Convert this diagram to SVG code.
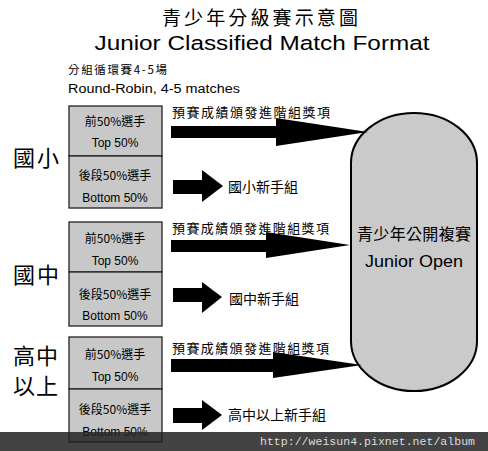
<svg xmlns="http://www.w3.org/2000/svg" width="488" height="451" viewBox="0 0 488 451">
<style>
text{font-family:"Liberation Sans","Noto Sans CJK TC",sans-serif;fill:#000}
.cjk{font-family:"Noto Sans CJK TC","Liberation Sans",sans-serif}
.box{fill:#c8c8c8;stroke:#222;stroke-width:1.3}
.arr{fill:#000}
.bt{font-size:12px;text-anchor:middle}
.grp{font-size:22px;font-family:"Noto Sans CJK TC",sans-serif}
.lab{font-size:13px}
.new{font-size:14px}
</style>
<rect width="488" height="451" fill="#fff"/>
<g id="title">
<text class="cjk" x="260" y="25" font-size="19" text-anchor="middle" textLength="196">青少年分級賽示意圖</text>
<text x="262" y="50" font-size="20.5" text-anchor="middle" textLength="335" lengthAdjust="spacingAndGlyphs">Junior Classified Match Format</text>
<text class="cjk" x="68" y="74" font-size="11.5" textLength="99">分組循環賽4-5場</text>
<text x="68" y="93" font-size="12" textLength="172" lengthAdjust="spacingAndGlyphs">Round-Robin, 4-5 matches</text>
</g>
<g id="group-elem">
<text class="grp" x="13" y="166" textLength="46">國小</text>
<rect class="box" x="69" y="106" width="93" height="50"/>
<rect class="box" x="69" y="156" width="93" height="52"/>
<text class="bt cjk" x="115" y="126">前50%選手</text>
<text class="bt" x="115" y="147" font-size="13">Top 50%</text>
<text class="bt cjk" x="115" y="180">後段50%選手</text>
<text class="bt" x="115" y="202" font-size="13">Bottom 50%</text>
</g>
<g id="group-junior">
<text class="grp" x="13" y="283" textLength="46">國中</text>
<rect class="box" x="69" y="222" width="93" height="50"/>
<rect class="box" x="69" y="272" width="93" height="54"/>
<text class="bt cjk" x="115" y="243">前50%選手</text>
<text class="bt" x="115" y="265" font-size="13">Top 50%</text>
<text class="bt cjk" x="115" y="299">後段50%選手</text>
<text class="bt" x="115" y="320" font-size="13">Bottom 50%</text>
</g>
<g id="group-senior">
<text class="grp" x="13" y="364" font-size="20" textLength="45">高中</text>
<text class="grp" x="13" y="393.5" font-size="20" textLength="45">以上</text>
<rect class="box" x="69" y="337" width="93" height="52"/>
<rect class="box" x="69" y="389" width="93" height="53"/>
<text class="bt cjk" x="115" y="359">前50%選手</text>
<text class="bt" x="115" y="381" font-size="13">Top 50%</text>
<text class="bt cjk" x="115" y="414">後段50%選手</text>
<text class="bt" x="115" y="436" font-size="13">Bottom 50%</text>
</g>
<g id="junior-open">
<path d="M351,163 A63,50 0 0 1 477,163 L477,341 A63,50 0 0 1 351,341 Z" fill="#cacaca" stroke="#000" stroke-width="2"/>
<text class="cjk" x="414" y="240" font-size="16" text-anchor="middle" textLength="114">青少年公開複賽</text>
<text x="414" y="267" font-size="17" text-anchor="middle" textLength="98" lengthAdjust="spacingAndGlyphs">Junior Open</text>
</g>
<g id="connectors">
<polygon class="arr" points="171,126 276,126 276,118 368,132 276,146 276,138 171,138"/>
<text class="lab cjk" x="172" y="117" textLength="158">預賽成績頒發進階組獎項</text>
<polygon class="arr" points="173,180 202,180 202,170 223,186 202,202 202,194 173,194"/>
<text class="new cjk" x="228" y="192">國小新手組</text>

<polygon class="arr" points="171,240 266,240 266,232 350,245 266,258 266,252 171,252"/>
<text class="lab cjk" x="172" y="233" textLength="157">預賽成績頒發進階組獎項</text>
<polygon class="arr" points="173,288 202,288 202,282 222,297 202,313 202,302 173,302"/>
<text class="new cjk" x="229" y="304">國中新手組</text>

<polygon class="arr" points="171,359 273,359 273,352 362,365 273,378 273,372 171,372"/>
<text class="lab cjk" x="172" y="353" textLength="157">預賽成績頒發進階組獎項</text>
<polygon class="arr" points="173,408 202,408 202,400 222,415 202,430 202,423 173,423"/>
<text class="new cjk" x="228" y="420">高中以上新手組</text>
</g>
<g id="watermark">
<rect x="0" y="432" width="488" height="19" fill="#222" opacity="0.85"/>
<text x="260" y="445" font-size="11.5" style="font-family:'Liberation Mono',monospace;fill:#ddd" textLength="215">http://weisun4.pixnet.net/album</text>
</g>
</svg>
